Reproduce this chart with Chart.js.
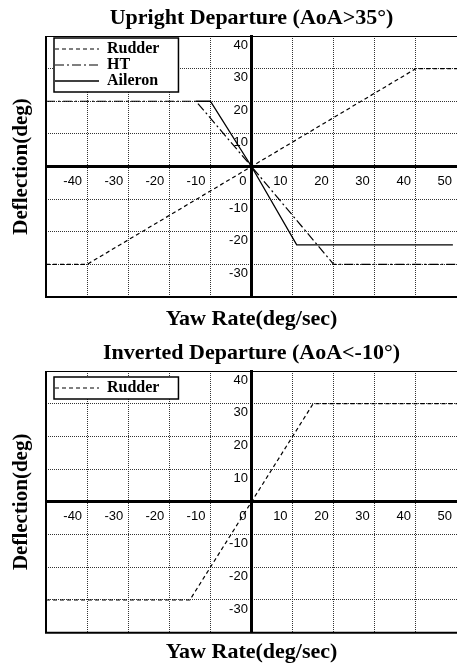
<!DOCTYPE html>
<html>
<head>
<meta charset="utf-8">
<script src="https://cdn.jsdelivr.net/npm/chart.js@4.4.1/dist/chart.umd.min.js"></script>
<style>
  body { margin: 0; background: #fff; }
  canvas { display: block; }
  #upright { margin-bottom: 2px; }
</style>
</head>
<body>
<canvas id="upright" width="457" height="333"></canvas>
<canvas id="inverted" width="457" height="331"></canvas>
<script>
// tick labels shown on the centred axes
const xTickLabels = ['-40', '-30', '-20', '-10', '0', '10', '20', '30', '40', '50'];
const yTickLabels = ['40', '30', '20', '10', '-10', '-20', '-30'];

// upright departure (AoA>35)
const rudderUpX = [-50, -40, 40, 50];
const rudderUpY = [-30, -30, 30, 30];
const htUpX = [-50, -13.5, 0, 20, 50];
const htUpY = [20, 20, 0, -30, -30];
const aileronUpX = [-13.5, -10, 0, 11, 49];
const aileronUpY = [20, 20, 0, -24, -24];

// inverted departure (AoA<-10)
const rudderInvX = [-50, -15, 15, 50];
const rudderInvY = [-30, -30, 30, 30];

const serif = "'Liberation Serif', 'Times New Roman', serif";
Chart.defaults.font.family = "'Liberation Sans', Arial, sans-serif";
Chart.defaults.font.size = 13;
Chart.defaults.color = '#000';

function series(xs, ys) {
    return xs.map((x, i) => ({ x: x, y: ys[i] }));
}

function line(label, xs, ys, dash, width) {
    return {
        label: label,
        data: series(xs, ys),
        showLine: true,
        borderColor: '#000',
        backgroundColor: '#000',
        borderWidth: width,
        borderDash: dash,
        pointRadius: 0,
        fill: false
    };
}

// plot frame + boxed legend inside the plot area
const framePlugin = {
    id: 'frame',
    afterLayout(chart, args, opts) {
        chart.legend.left = chart.chartArea.left + 9;
        chart.legend.top = chart.chartArea.top + opts.legendTop;
    },
    beforeDatasetsDraw(chart) {
        const ctx = chart.ctx;
        const a = chart.chartArea;
        ctx.save();
        ctx.strokeStyle = '#000';
        ctx.lineWidth = 2;
        ctx.beginPath();
        ctx.moveTo(a.left, a.top);
        ctx.lineTo(a.left, a.bottom);
        ctx.lineTo(a.right + 4, a.bottom);
        ctx.stroke();
        ctx.lineWidth = 1;
        ctx.beginPath();
        ctx.moveTo(a.left, a.top + 0.5);
        ctx.lineTo(a.right + 4, a.top + 0.5);
        ctx.stroke();

        const boxes = chart.legend.legendHitBoxes;
        const l = Math.min(...boxes.map(b => b.left)) - 1;
        const t = Math.min(...boxes.map(b => b.top)) - 3;
        const r = Math.max(...boxes.map(b => b.left + b.width)) + 19;
        const bt = Math.max(...boxes.map(b => b.top + b.height)) + 3;
        ctx.fillStyle = '#fff';
        ctx.fillRect(l, t, r - l, bt - t);
        ctx.lineWidth = 1.5;
        ctx.strokeRect(l, t, r - l, bt - t);
        ctx.restore();
        chart.legend.draw();
    }
};

function legendLabels(chart) {
    const items = Chart.defaults.plugins.legend.labels.generateLabels(chart);
    items.forEach(it => {
        const ds = chart.data.datasets[it.datasetIndex];
        it.lineDash = ds.borderDash;
        it.lineWidth = ds.borderWidth;
    });
    return items;
}

function makeChart(id, title, datasets, xTitlePad, legendTop) {
    const border = { display: true, color: '#000', width: 3, dash: [1, 1] };
    return new Chart(document.getElementById(id), {
        type: 'scatter',
        data: { datasets: datasets },
        options: {
            responsive: false,
            animation: false,
            layout: { padding: 0 },
            plugins: {
                title: {
                    display: true,
                    fullSize: false,
                    text: title,
                    color: '#000',
                    font: { family: serif, size: 22, weight: 'bold' },
                    padding: { top: 4.8, bottom: 4.8 }
                },
                legend: {
                    position: 'chartArea',
                    align: 'start',
                    labels: {
                        usePointStyle: true,
                        pointStyle: 'line',
                        pointStyleWidth: 44,
                        padding: 0,
                        color: '#000',
                        font: { family: serif, size: 16, weight: 'bold' },
                        generateLabels: legendLabels
                    }
                },
                tooltip: { enabled: false },
                frame: { legendTop: legendTop }
            },
            scales: {
                x: {
                    type: 'linear',
                    position: { y: 0 },
                    min: -50,
                    max: 50,
                    ticks: {
                        stepSize: 10,
                        align: 'end',
                        labelOffset: -5,
                        padding: 0,
                        callback: v => xTickLabels.includes(String(v)) ? String(v) : ''
                    },
                    grid: { color: '#333', lineWidth: 1, drawTicks: true, tickLength: 7, tickColor: 'rgba(0,0,0,0)' },
                    border: border
                },
                y: {
                    type: 'linear',
                    position: { x: 0 },
                    min: -40,
                    max: 40,
                    ticks: {
                        stepSize: 10,
                        labelOffset: 9,
                        padding: 0,
                        callback: v => yTickLabels.includes(String(v)) ? String(v) + ' ' : ''
                    },
                    grid: { color: '#333', lineWidth: 1, drawTicks: false },
                    border: border
                },
                xt: {
                    type: 'linear',
                    position: 'bottom',
                    ticks: { display: false },
                    grid: { display: false, drawTicks: false },
                    border: { display: false },
                    title: {
                        display: true,
                        text: 'Yaw Rate(deg/sec)',
                        color: '#000',
                        font: { family: serif, size: 22, weight: 'bold' },
                        padding: xTitlePad
                    }
                },
                yt: {
                    type: 'linear',
                    position: 'left',
                    ticks: { display: false },
                    grid: { display: false, drawTicks: false },
                    border: { display: false },
                    title: {
                        display: true,
                        text: 'Deflection(deg)',
                        color: '#000',
                        font: { family: serif, size: 21, weight: 'bold' },
                        padding: { top: 9.4, bottom: 11.4 }
                    }
                }
            }
        },
        plugins: [framePlugin]
    });
}

makeChart('upright', 'Upright Departure (AoA>35°)', [
    line('Rudder', rudderUpX, rudderUpY, [4, 3], 1.2),
    line('HT', htUpX, htUpY, [9, 3, 2, 3], 1.2),
    line('Aileron', aileronUpX, aileronUpY, [], 1.3)
], { top: 8.8, bottom: 0.8 }, 5);

makeChart('inverted', 'Inverted Departure (AoA<-10°)', [
    line('Rudder', rudderInvX, rudderInvY, [4, 3], 1.2)
], { top: 6.9, bottom: 0 }, 9);
</script>
</body>
</html>
